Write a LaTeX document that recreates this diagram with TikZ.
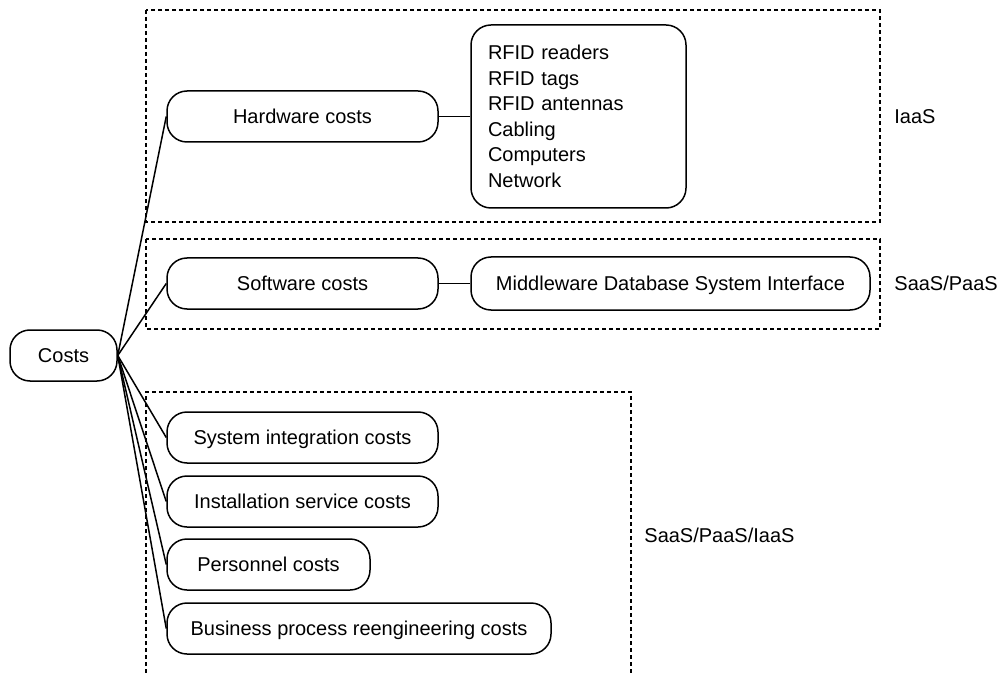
\documentclass[tikz,border=0pt]{standalone}
\usepackage{fontspec}
\setmainfont{Liberation Sans}
\begin{document}
\begin{tikzpicture}[x=0.5pt,y=-0.5pt,
  pill/.style={draw, line width=0.75pt, rounded corners=10pt, inner sep=0pt, minimum height=25.5pt, align=center},
  one/.style={pill, text height=7.16pt, text depth=0pt},
  grp/.style={draw, line width=0.6pt, dash pattern=on 2pt off 1.5pt},
  conn/.style={draw, line width=0.75pt},
  lbl/.style={anchor=west, inner sep=0pt, text height=7.16pt, text depth=0pt}]
\useasboundingbox (0,0) rectangle (999,673);
\fontsize{10pt}{12.75pt}\selectfont
% group boxes
\draw[grp] (146,10) rectangle (880,222);
\draw[grp] (146,239) rectangle (880,329);
\draw[grp] (146,673) -- (146,392) -- (631,392) -- (631,673);
% nodes
\node[one, minimum width=53.5pt] (costs) at (63.5,355.5) {Costs};
\node[one, minimum width=135.5pt] (hw) at (302.5,116.5) {Hardware costs};
\node[pill, minimum width=107.5pt, minimum height=91.5pt, text width=90.5pt, inner xsep=8.5pt, align=left] (rfid) at (578.5,116.5) {RFID readers\\RFID tags\\RFID antennas\\Cabling\\Computers\\Network};
\node[one, minimum width=135.5pt] (sw) at (302.5,283.5) {Software costs};
\node[one, minimum width=199.5pt, minimum height=26.5pt] (mw) at (670.5,283.5) {Middleware Database System Interface};
\node[one, minimum width=135.5pt] (si) at (302.5,437.5) {System integration costs};
\node[one, minimum width=135.5pt] (is) at (302.5,501.5) {Installation service costs};
\node[one, minimum width=101.5pt] (pc) at (268.5,564.5) {Personnel costs};
\node[one, minimum width=192pt] (bp) at (359,628.5) {Business process reengineering costs};
% labels
\node[lbl] (l1) at (894,116.5) {IaaS};
\node[lbl] (l2) at (894,283.5) {SaaS/PaaS};
\node[lbl] (l3) at (644,535) {SaaS/PaaS/IaaS};
% connectors
\foreach \n in {hw,sw,si,is,pc,bp} \draw[conn] (costs.east) -- (\n.west);
\draw[conn] (hw.east) -- (rfid.west);
\draw[conn] (sw.east) -- (mw.west);
\end{tikzpicture}
\end{document}
